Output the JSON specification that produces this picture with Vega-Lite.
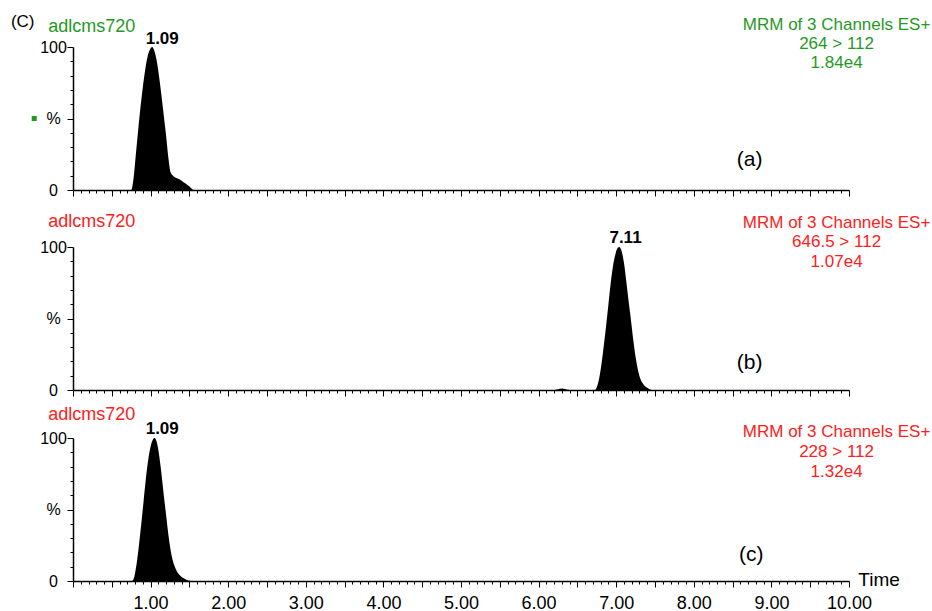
{
  "$schema": "https://vega.github.io/schema/vega-lite/v6.json",
  "padding": {"left": 10, "top": 12, "right": 2, "bottom": 3},
  "config": {
    "font": "Liberation Sans",
    "view": {"stroke": null},
    "axis": {"domainColor": "black", "tickColor": "black", "labelColor": "black", "grid": false, "title": null, "domainWidth": 1.5, "tickWidth": 1, "labelFontSize": 16, "labelFont": "Liberation Sans"},
    "text": {"font": "Liberation Sans", "fontSize": 16}
  },
  "datasets": {
    "a": [
      {"t": 0, "pct": 0}, {"t": 0.75, "pct": 0}, {"t": 0.78, "pct": 8}, {"t": 0.81, "pct": 25}, {"t": 0.84, "pct": 42}, {"t": 0.87, "pct": 58}, {"t": 0.90, "pct": 72}, {"t": 0.93, "pct": 84}, {"t": 0.96, "pct": 93}, {"t": 0.99, "pct": 98}, {"t": 1.02, "pct": 100}, {"t": 1.05, "pct": 97}, {"t": 1.08, "pct": 90}, {"t": 1.11, "pct": 79}, {"t": 1.14, "pct": 66}, {"t": 1.17, "pct": 52}, {"t": 1.20, "pct": 38}, {"t": 1.23, "pct": 22}, {"t": 1.26, "pct": 12}, {"t": 1.30, "pct": 9.5}, {"t": 1.35, "pct": 8}, {"t": 1.40, "pct": 6.5}, {"t": 1.45, "pct": 4.5}, {"t": 1.50, "pct": 2.5}, {"t": 1.56, "pct": 0}, {"t": 10, "pct": 0}
    ],
    "b": [
      {"t": 0, "pct": 0}, {"t": 6.20, "pct": 0}, {"t": 6.25, "pct": 0.6}, {"t": 6.30, "pct": 1.1}, {"t": 6.35, "pct": 0.6}, {"t": 6.40, "pct": 0}, {"t": 6.72, "pct": 0}, {"t": 6.75, "pct": 2}, {"t": 6.78, "pct": 8}, {"t": 6.81, "pct": 18}, {"t": 6.84, "pct": 31}, {"t": 6.87, "pct": 45}, {"t": 6.90, "pct": 60}, {"t": 6.93, "pct": 75}, {"t": 6.96, "pct": 87}, {"t": 6.99, "pct": 95}, {"t": 7.02, "pct": 99.5}, {"t": 7.04, "pct": 100}, {"t": 7.07, "pct": 97}, {"t": 7.10, "pct": 89}, {"t": 7.13, "pct": 76}, {"t": 7.16, "pct": 62}, {"t": 7.19, "pct": 49}, {"t": 7.22, "pct": 35}, {"t": 7.25, "pct": 23}, {"t": 7.28, "pct": 14}, {"t": 7.31, "pct": 8}, {"t": 7.35, "pct": 4}, {"t": 7.40, "pct": 1.5}, {"t": 7.46, "pct": 0}, {"t": 10, "pct": 0}
    ],
    "c": [
      {"t": 0, "pct": 0}, {"t": 0.76, "pct": 0}, {"t": 0.79, "pct": 3}, {"t": 0.82, "pct": 12}, {"t": 0.85, "pct": 25}, {"t": 0.88, "pct": 40}, {"t": 0.91, "pct": 56}, {"t": 0.94, "pct": 72}, {"t": 0.97, "pct": 85}, {"t": 1.00, "pct": 94}, {"t": 1.03, "pct": 99}, {"t": 1.05, "pct": 100}, {"t": 1.08, "pct": 97}, {"t": 1.11, "pct": 88}, {"t": 1.14, "pct": 75}, {"t": 1.17, "pct": 60}, {"t": 1.20, "pct": 46}, {"t": 1.23, "pct": 32}, {"t": 1.26, "pct": 21}, {"t": 1.29, "pct": 13.5}, {"t": 1.32, "pct": 9}, {"t": 1.36, "pct": 5}, {"t": 1.40, "pct": 2.8}, {"t": 1.45, "pct": 1.2}, {"t": 1.52, "pct": 0}, {"t": 10, "pct": 0}
    ]
  },
  "bounds": "flush",
  "spacing": 48,
  "vconcat": [
    {
      "width": 776, "height": 143,
      "resolve": {"axis": {"x": "independent", "y": "independent"}},
      "layer": [
        {
          "data": {"name": "a"},
          "mark": {"type": "area", "color": "black", "interpolate": "monotone"},
          "encoding": {
            "x": {"field": "t", "type": "quantitative", "scale": {"domain": [0, 10], "nice": false, "zero": false},
              "axis": {"labels": false, "values": [0,0.1,0.2,0.3,0.4,0.5,0.6,0.7,0.8,0.9,1,1.1,1.2,1.3,1.4,1.5,1.6,1.7,1.8,1.9,2,2.1,2.2,2.3,2.4,2.5,2.6,2.7,2.8,2.9,3,3.1,3.2,3.3,3.4,3.5,3.6,3.7,3.8,3.9,4,4.1,4.2,4.3,4.4,4.5,4.6,4.7,4.8,4.9,5,5.1,5.2,5.3,5.4,5.5,5.6,5.7,5.8,5.9,6,6.1,6.2,6.3,6.4,6.5,6.6,6.7,6.8,6.9,7,7.1,7.2,7.3,7.4,7.5,7.6,7.7,7.8,7.9,8,8.1,8.2,8.3,8.4,8.5,8.6,8.7,8.8,8.9,9,9.1,9.2,9.3,9.4,9.5,9.6,9.7,9.8,9.9,10],
                "tickSize": {"condition": {"test": "abs(datum.value*2 - round(datum.value*2)) < 0.001", "value": 6}, "value": 3}}},
            "y": {"field": "pct", "type": "quantitative", "scale": {"domain": [0, 100], "nice": false},
              "axis": {"values": [0,10,20,30,40,50,60,70,80,90,100], "labelExpr": "datum.value == 100 ? '100' : datum.value == 50 ? '%' : datum.value == 0 ? '0' : ''", "labelAlign": "center", "labelPadding": 14,
                "tickSize": {"condition": {"test": "datum.value % 50 == 0", "value": 6}, "value": 3}}}
          }
        },
        {"data": {"values": [{"label": "(C)"}]}, "mark": {"type": "text", "align": "left", "baseline": "middle", "fontSize": 17, "color": "black"},
          "encoding": {"x": {"datum": -0.80, "axis": null}, "y": {"datum": 117.5, "axis": null}, "text": {"field": "label"}}},
        {"data": {"values": [{"label": "adlcms720"}]}, "mark": {"type": "text", "align": "left", "baseline": "middle", "fontSize": 18, "color": "#1f9a1f"},
          "encoding": {"x": {"datum": -0.32, "axis": null}, "y": {"datum": 114, "axis": null}, "text": {"field": "label"}}},
        {"data": {"values": [{"label": "1.09"}]}, "mark": {"type": "text", "align": "center", "baseline": "middle", "fontSize": 17, "fontWeight": "bold", "color": "black"},
          "encoding": {"x": {"datum": 1.15, "axis": null}, "y": {"datum": 105.6, "axis": null}, "text": {"field": "label"}}},
        {"data": {"values": [{"label": "MRM of 3 Channels ES+\n264 > 112\n1.84e4"}]}, "mark": {"type": "text", "align": "center", "baseline": "middle", "fontSize": 17, "lineBreak": "\n", "lineHeight": 19, "color": "#1f9a1f"},
          "encoding": {"x": {"datum": 9.84, "axis": null}, "y": {"datum": 115.4, "axis": null}, "text": {"field": "label"}}},
        {"data": {"values": [{"label": "(a)"}]}, "mark": {"type": "text", "align": "center", "baseline": "middle", "fontSize": 21, "color": "black"},
          "encoding": {"x": {"datum": 8.72, "axis": null}, "y": {"datum": 21, "axis": null}, "text": {"field": "label"}}},
        {"data": {"values": [{"label": "marker"}]}, "mark": {"type": "square", "size": 25, "filled": true, "color": "#1f9a1f", "opacity": 1},
          "encoding": {"x": {"datum": -0.50, "axis": null}, "y": {"datum": 50, "axis": null}}}
      ]
    },
    {
      "width": 776, "height": 152,
      "resolve": {"axis": {"x": "independent", "y": "independent"}},
      "layer": [
        {
          "data": {"name": "b"},
          "mark": {"type": "area", "color": "black", "interpolate": "monotone"},
          "encoding": {
            "x": {"field": "t", "type": "quantitative", "scale": {"domain": [0, 10], "nice": false, "zero": false},
              "axis": {"labels": false, "values": [0,0.1,0.2,0.3,0.4,0.5,0.6,0.7,0.8,0.9,1,1.1,1.2,1.3,1.4,1.5,1.6,1.7,1.8,1.9,2,2.1,2.2,2.3,2.4,2.5,2.6,2.7,2.8,2.9,3,3.1,3.2,3.3,3.4,3.5,3.6,3.7,3.8,3.9,4,4.1,4.2,4.3,4.4,4.5,4.6,4.7,4.8,4.9,5,5.1,5.2,5.3,5.4,5.5,5.6,5.7,5.8,5.9,6,6.1,6.2,6.3,6.4,6.5,6.6,6.7,6.8,6.9,7,7.1,7.2,7.3,7.4,7.5,7.6,7.7,7.8,7.9,8,8.1,8.2,8.3,8.4,8.5,8.6,8.7,8.8,8.9,9,9.1,9.2,9.3,9.4,9.5,9.6,9.7,9.8,9.9,10],
                "tickSize": {"condition": {"test": "abs(datum.value*2 - round(datum.value*2)) < 0.001", "value": 6}, "value": 3}}},
            "y": {"field": "pct", "type": "quantitative", "scale": {"domain": [0, 100], "nice": false, "range": [152, 9]},
              "axis": {"values": [0,10,20,30,40,50,60,70,80,90,100], "labelExpr": "datum.value == 100 ? '100' : datum.value == 50 ? '%' : datum.value == 0 ? '0' : ''", "labelAlign": "center", "labelPadding": 14,
                "tickSize": {"condition": {"test": "datum.value % 50 == 0", "value": 6}, "value": 3}}}
          }
        },
        {"data": {"values": [{"label": "adlcms720"}]}, "mark": {"type": "text", "align": "left", "baseline": "middle", "fontSize": 18, "color": "#ff2020"},
          "encoding": {"x": {"datum": -0.32, "axis": null}, "y": {"datum": 117.5, "axis": null}, "text": {"field": "label"}}},
        {"data": {"values": [{"label": "7.11"}]}, "mark": {"type": "text", "align": "center", "baseline": "middle", "fontSize": 17, "fontWeight": "bold", "color": "black"},
          "encoding": {"x": {"datum": 7.12, "axis": null}, "y": {"datum": 106.3, "axis": null}, "text": {"field": "label"}}},
        {"data": {"values": [{"label": "MRM of 3 Channels ES+\n646.5 > 112\n1.07e4"}]}, "mark": {"type": "text", "align": "center", "baseline": "middle", "fontSize": 17, "lineBreak": "\n", "lineHeight": 19.5, "color": "#ff2020"},
          "encoding": {"x": {"datum": 9.84, "axis": null}, "y": {"datum": 116.8, "axis": null}, "text": {"field": "label"}}},
        {"data": {"values": [{"label": "(b)"}]}, "mark": {"type": "text", "align": "center", "baseline": "middle", "fontSize": 21, "color": "black"},
          "encoding": {"x": {"datum": 8.72, "axis": null}, "y": {"datum": 19, "axis": null}, "text": {"field": "label"}}}
      ]
    },
    {
      "width": 776, "height": 143,
      "resolve": {"axis": {"x": "independent", "y": "independent"}},
      "layer": [
        {
          "data": {"name": "c"},
          "mark": {"type": "area", "color": "black", "interpolate": "monotone"},
          "encoding": {
            "x": {"field": "t", "type": "quantitative", "scale": {"domain": [0, 10], "nice": false, "zero": false},
              "axis": {"values": [0,0.1,0.2,0.3,0.4,0.5,0.6,0.7,0.8,0.9,1,1.1,1.2,1.3,1.4,1.5,1.6,1.7,1.8,1.9,2,2.1,2.2,2.3,2.4,2.5,2.6,2.7,2.8,2.9,3,3.1,3.2,3.3,3.4,3.5,3.6,3.7,3.8,3.9,4,4.1,4.2,4.3,4.4,4.5,4.6,4.7,4.8,4.9,5,5.1,5.2,5.3,5.4,5.5,5.6,5.7,5.8,5.9,6,6.1,6.2,6.3,6.4,6.5,6.6,6.7,6.8,6.9,7,7.1,7.2,7.3,7.4,7.5,7.6,7.7,7.8,7.9,8,8.1,8.2,8.3,8.4,8.5,8.6,8.7,8.8,8.9,9,9.1,9.2,9.3,9.4,9.5,9.6,9.7,9.8,9.9,10],
                "labelExpr": "datum.value >= 1 && abs(datum.value - round(datum.value)) < 0.001 ? format(datum.value, '.2f') : ''",
                "labelFontSize": 18, "labelPadding": 7, "labelOverlap": false, "labelFlush": false,
                "tickSize": {"condition": {"test": "abs(datum.value*2 - round(datum.value*2)) < 0.001", "value": 6}, "value": 3}}},
            "y": {"field": "pct", "type": "quantitative", "scale": {"domain": [0, 100], "nice": false},
              "axis": {"values": [0,10,20,30,40,50,60,70,80,90,100], "labelExpr": "datum.value == 100 ? '100' : datum.value == 50 ? '%' : datum.value == 0 ? '0' : ''", "labelAlign": "center", "labelPadding": 14,
                "tickSize": {"condition": {"test": "datum.value % 50 == 0", "value": 6}, "value": 3}}}
          }
        },
        {"data": {"values": [{"label": "adlcms720"}]}, "mark": {"type": "text", "align": "left", "baseline": "middle", "fontSize": 18, "color": "#ff2020"},
          "encoding": {"x": {"datum": -0.32, "axis": null}, "y": {"datum": 116, "axis": null}, "text": {"field": "label"}}},
        {"data": {"values": [{"label": "1.09"}]}, "mark": {"type": "text", "align": "center", "baseline": "middle", "fontSize": 17, "fontWeight": "bold", "color": "black"},
          "encoding": {"x": {"datum": 1.15, "axis": null}, "y": {"datum": 106.3, "axis": null}, "text": {"field": "label"}}},
        {"data": {"values": [{"label": "MRM of 3 Channels ES+\n228 > 112\n1.32e4"}]}, "mark": {"type": "text", "align": "center", "baseline": "middle", "fontSize": 17, "lineBreak": "\n", "lineHeight": 20, "color": "#ff2020"},
          "encoding": {"x": {"datum": 9.84, "axis": null}, "y": {"datum": 104.2, "axis": null}, "text": {"field": "label"}}},
        {"data": {"values": [{"label": "(c)"}]}, "mark": {"type": "text", "align": "center", "baseline": "middle", "fontSize": 21, "color": "black"},
          "encoding": {"x": {"datum": 8.74, "axis": null}, "y": {"datum": 18.5, "axis": null}, "text": {"field": "label"}}},
        {"data": {"values": [{"label": "Time"}]}, "mark": {"type": "text", "align": "left", "baseline": "middle", "fontSize": 19, "color": "black"},
          "encoding": {"x": {"datum": 10.12, "axis": null}, "y": {"datum": 0.5, "axis": null}, "text": {"field": "label"}}}
      ]
    }
  ]
}
